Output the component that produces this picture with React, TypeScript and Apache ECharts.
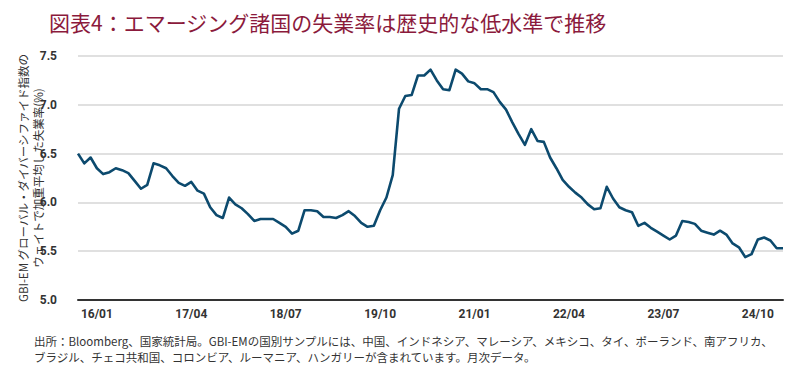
import React, { useEffect, useRef } from "react";
import * as echarts from "echarts";

// Monthly series starting 2015/10
const START_YEAR = 2015;
const START_MONTH = 10;

const unemployment: number[] = [
  6.50, 6.40, 6.46, 6.35, 6.29, 6.31, 6.35, 6.33, 6.30, 6.22,
  6.14, 6.18, 6.40, 6.38, 6.35, 6.27, 6.20, 6.17, 6.21, 6.12,
  6.09, 5.95, 5.87, 5.84, 6.05, 5.98, 5.94, 5.88, 5.81, 5.83,
  5.83, 5.83, 5.79, 5.75, 5.68, 5.71, 5.92, 5.92, 5.91, 5.85,
  5.85, 5.84, 5.87, 5.91, 5.86, 5.79, 5.75, 5.76, 5.92, 6.05,
  6.28, 6.96, 7.09, 7.10, 7.30, 7.30, 7.36, 7.25, 7.16, 7.15,
  7.36, 7.32, 7.24, 7.22, 7.16, 7.16, 7.13, 7.03, 6.95, 6.82,
  6.70, 6.59, 6.75, 6.63, 6.62, 6.46, 6.35, 6.23, 6.16, 6.10,
  6.05, 5.98, 5.93, 5.94, 6.16, 6.04, 5.95, 5.92, 5.90, 5.76,
  5.79, 5.74, 5.70, 5.66, 5.62, 5.66, 5.81, 5.80, 5.78, 5.71,
  5.69, 5.67, 5.71, 5.67, 5.58, 5.54, 5.44, 5.47, 5.62, 5.64,
  5.61, 5.53, 5.53,
];

const xTickLabels = ["16/01", "17/04", "18/07", "19/10", "21/01", "22/04", "23/07", "24/10"];
const Y_MIN = 5.0;
const Y_MAX = 7.5;
const Y_STEP = 0.5;

const TITLE = "図表4：エマージング諸国の失業率は歴史的な低水準で推移";
const Y_NAME_LINES = [
  "GBI-EM グローバル・ダイバーシファイド指数の",
  "ウェイトで加重平均した失業率(%)",
];
const NOTE_LINES = [
  "出所：Bloomberg、国家統計局。GBI-EMの国別サンプルには、中国、インドネシア、マレーシア、メキシコ、タイ、ポーランド、南アフリカ、",
  "ブラジル、チェコ共和国、コロンビア、ルーマニア、ハンガリーが含まれています。月次データ。",
];

const months: string[] = unemployment.map((_, i) => {
  const m = START_MONTH - 1 + i;
  const y = START_YEAR + Math.floor(m / 12);
  const mm = (m % 12) + 1;
  return `${String(y).slice(2)}/${String(mm).padStart(2, "0")}`;
});

const CJK = '"Noto Sans CJK JP", "Noto Sans", sans-serif';
const NUM = 'Roboto, "Noto Sans", sans-serif';

export default function App() {
  const ref = useRef<HTMLDivElement>(null);

  useEffect(() => {
    if (!ref.current) return;
    const chart = echarts.init(ref.current, null, { renderer: "svg" });
    chart.setOption({
      animation: false,
      backgroundColor: "#ffffff",
      grid: { left: 78, right: 17, top: 56, bottom: 76, containLabel: false },
      xAxis: {
        type: "category",
        data: months,
        boundaryGap: false,
        axisLine: { show: true, lineStyle: { color: "#333333", width: 2 } },
        axisTick: { show: false },
        axisLabel: {
          interval: (_idx: number, val: string) => xTickLabels.includes(val),
          color: "#333333",
          fontFamily: NUM,
          fontSize: 12,
          fontWeight: "bold",
          margin: 8,
        },
        splitLine: { show: false },
      },
      yAxis: {
        type: "value",
        min: Y_MIN,
        max: Y_MAX,
        interval: Y_STEP,
        axisLine: { show: false },
        axisTick: { show: false },
        axisLabel: {
          formatter: (v: number) => v.toFixed(1),
          color: "#333333",
          fontFamily: NUM,
          fontSize: 12,
          fontWeight: "bold",
          margin: 21,
        },
        splitLine: { show: true, lineStyle: { color: "#d6d6d6", width: 1.5 } },
      },
      series: [
        {
          type: "line",
          data: unemployment,
          showSymbol: false,
          symbol: "none",
          lineStyle: { color: "#0c4a6e", width: 2.6, join: "round" },
          z: 3,
        },
      ],
      graphic: [
        {
          type: "text",
          left: 49,
          top: 11,
          style: {
            text: TITLE,
            fill: "#8b1a3c",
            fontFamily: CJK,
            fontSize: 21,
            fontWeight: "normal",
          },
        },
        {
          type: "text",
          x: 30,
          y: 178,
          rotation: Math.PI / 2,
          style: {
            text: Y_NAME_LINES.join("\n"),
            fill: "#333333",
            fontFamily: CJK,
            fontSize: 11.5,
            lineHeight: 15,
            align: "center",
            verticalAlign: "middle",
          },
        },
        {
          type: "text",
          x: 34,
          y: 341,
          style: {
            text: NOTE_LINES[0],
            fill: "#333333",
            fontFamily: CJK,
            fontSize: 11.5,
            verticalAlign: "middle",
          },
        },
        {
          type: "text",
          x: 34,
          y: 357,
          style: {
            text: NOTE_LINES[1],
            fill: "#333333",
            fontFamily: CJK,
            fontSize: 11.5,
            verticalAlign: "middle",
          },
        },
      ],
    });
    return () => chart.dispose();
  }, []);

  return (
    <div
      ref={ref}
      style={{ position: "fixed", left: 0, top: 0, width: 800, height: 376, background: "#fff" }}
    />
  );
}
